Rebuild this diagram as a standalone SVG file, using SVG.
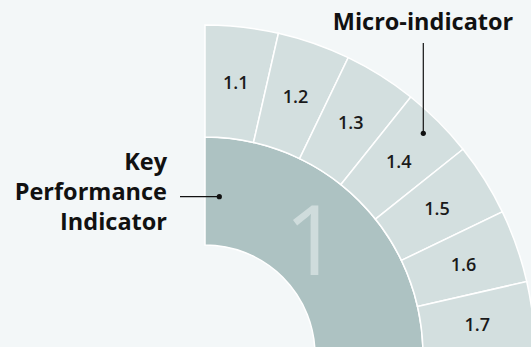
<svg xmlns="http://www.w3.org/2000/svg" width="531" height="347" viewBox="0 0 531 347">
<style>
.bg{fill:#f3f7f8}
.seg{fill:#d3dfdf;stroke:#ffffff;stroke-width:1.5}
.kpi{fill:#adc2c2;stroke:#ffffff;stroke-width:1.5}
.lbl{font-family:"Open Sans","Liberation Sans",sans-serif;font-weight:600;font-size:18px;fill:#1a1a1a;text-anchor:middle}
.big{font-family:"Open Sans","Liberation Sans",sans-serif;font-weight:400;font-size:97px;fill:#cfdcdc;text-anchor:middle}
.cap{font-family:"Open Sans","Liberation Sans",sans-serif;font-weight:700;font-size:23.5px;fill:#111111}
.lead{stroke:#111111;stroke-width:1.2;fill:none}
.dot{fill:#111111}
</style>
<rect class="bg" x="0" y="0" width="531" height="347"/>
<g id="kpi">
<path class="kpi" d="M205,137 A218,218 0 0 1 423,355 L315,355 A110,110 0 0 0 205,245 Z"/>
<text class="big" x="312" y="275">1</text>
</g>
<g id="seg-1-1"><path class="seg" d="M205,137 L205,25 A330,330 0 0 1 278.43,33.27 L253.51,142.47 A218,218 0 0 0 205,137 Z"/><text class="lbl" x="235.7" y="89">1.1</text></g>
<g id="seg-1-2"><path class="seg" d="M253.51,142.47 L278.43,33.27 A330,330 0 0 1 348.18,57.68 L299.59,158.59 A218,218 0 0 0 253.51,142.47 Z"/><text class="lbl" x="295.5" y="102.6">1.2</text></g>
<g id="seg-1-3"><path class="seg" d="M299.59,158.59 L348.18,57.68 A330,330 0 0 1 410.75,97 L340.92,184.56 A218,218 0 0 0 299.59,158.59 Z"/><text class="lbl" x="350.8" y="129.2">1.3</text></g>
<g id="seg-1-4"><path class="seg" d="M340.92,184.56 L410.75,97 A330,330 0 0 1 463,149.25 L375.44,219.08 A218,218 0 0 0 340.92,184.56 Z"/><text class="lbl" x="398.8" y="167.5">1.4</text></g>
<g id="seg-1-5"><path class="seg" d="M375.44,219.08 L463,149.25 A330,330 0 0 1 502.32,211.82 L401.41,260.41 A218,218 0 0 0 375.44,219.08 Z"/><text class="lbl" x="437" y="215.4">1.5</text></g>
<g id="seg-1-6"><path class="seg" d="M401.41,260.41 L502.32,211.82 A330,330 0 0 1 526.73,281.57 L417.53,306.49 A218,218 0 0 0 401.41,260.41 Z"/><text class="lbl" x="463.6" y="270.7">1.6</text></g>
<g id="seg-1-7"><path class="seg" d="M417.53,306.49 L526.73,281.57 A330,330 0 0 1 535,355 L423,355 A218,218 0 0 0 417.53,306.49 Z"/><text class="lbl" x="477.3" y="330.5">1.7</text></g>
<g id="connectors">
<line class="lead" x1="180" y1="196.7" x2="219.3" y2="196.7"/>
<circle class="dot" cx="219.3" cy="196.7" r="2.6"/>
<line class="lead" x1="423.3" y1="43" x2="423.3" y2="133.3"/>
<circle class="dot" cx="423.3" cy="133.3" r="2.6"/>
</g>
<g id="label-kpi">
<text class="cap" x="167" y="170" text-anchor="end">Key</text>
<text class="cap" x="167" y="200" text-anchor="end">Performance</text>
<text class="cap" x="167" y="230" text-anchor="end">Indicator</text>
</g>
<g id="label-micro">
<text class="cap" x="423" y="30" text-anchor="middle">Micro-indicator</text>
</g>
</svg>
